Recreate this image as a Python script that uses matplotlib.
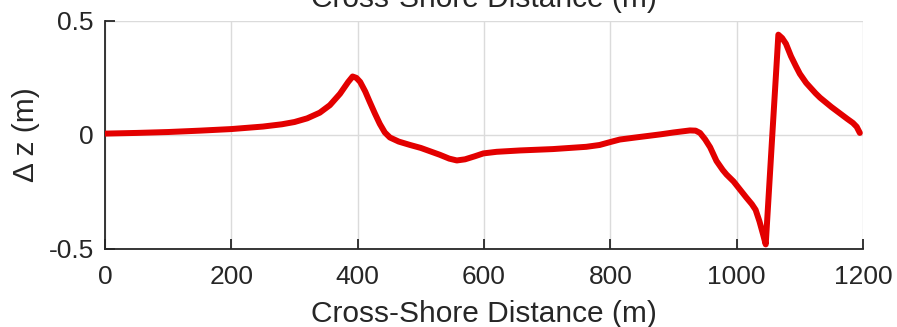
import matplotlib
matplotlib.use("Agg")
import matplotlib.pyplot as plt
from matplotlib.ticker import FixedLocator, FixedFormatter

plt.rcParams['font.family'] = ['Liberation Sans', 'DejaVu Sans']
plt.rcParams['axes.unicode_minus'] = False

distance = [0, 50, 100, 150, 200, 250, 280, 300, 320, 340, 356, 372, 385, 392, 398,
            404, 412, 419, 427, 435, 443, 451, 465, 483, 500, 514, 530, 545, 557, 570,
            585, 599, 620, 657, 709, 762, 783, 800, 815, 840, 863, 880, 900, 926, 935,
            942, 950, 958, 968, 978, 984, 995, 1005, 1015, 1024, 1030, 1036, 1042, 1046,
            1056, 1063, 1066, 1072, 1078, 1086, 1094, 1100, 1110, 1125, 1132, 1150, 1163,
            1175, 1184, 1190, 1195]
dz = [0.005, 0.008, 0.012, 0.018, 0.025, 0.036, 0.046, 0.056, 0.072, 0.097, 0.13, 0.18,
      0.232, 0.256, 0.25, 0.232, 0.19, 0.145, 0.095, 0.048, 0.01, -0.012, -0.03, -0.045,
      -0.058, -0.072, -0.088, -0.105, -0.113, -0.108, -0.095, -0.082, -0.075, -0.069,
      -0.063, -0.053, -0.045, -0.032, -0.021, -0.012, -0.004, 0.002, 0.01, 0.019, 0.018,
      0.008, -0.02, -0.055, -0.115, -0.155, -0.175, -0.205, -0.24, -0.275, -0.305, -0.33,
      -0.38, -0.44, -0.482, -0.02, 0.30, 0.44, 0.425, 0.40, 0.345, 0.30, 0.268, 0.228, 0.182,
      0.163, 0.122, 0.095, 0.07, 0.052, 0.035, 0.008]

xticks = [0, 200, 400, 600, 800, 1000, 1200]
xticklabels = ['0', '200', '400', '600', '800', '1000', '1200']
yticks = [-0.5, 0, 0.5]
yticklabels = ['-0.5', '0', '0.5']

xlabel = 'Cross-Shore Distance (m)'
ylabel = '\u0394 z (m)'

fig = plt.figure(figsize=(8.97, 3.27), dpi=100)
ax = fig.add_axes([105/897, 1 - 248.5/327, (863 - 105)/897, (248.5 - 21)/327])

dark = (0.15, 0.15, 0.15)
ax.plot(distance, dz, color=(0.89, 0.0, 0.0), lw=4.3,
        solid_joinstyle='round', solid_capstyle='round', zorder=3)

ax.set_xlim(0, 1200)
ax.set_ylim(-0.5, 0.5)
ax.xaxis.set_major_locator(FixedLocator(xticks))
ax.xaxis.set_major_formatter(FixedFormatter(xticklabels))
ax.yaxis.set_major_locator(FixedLocator(yticks))
ax.yaxis.set_major_formatter(FixedFormatter(yticklabels))

ax.grid(True, color=(0.86, 0.86, 0.86), lw=1.0, zorder=0)
ax.set_axisbelow(True)
for s in ['top', 'right']:
    ax.spines[s].set_visible(False)
for s in ['left', 'bottom']:
    ax.spines[s].set_color(dark)
    ax.spines[s].set_linewidth(1.3)

ax.tick_params(direction='in', length=7, width=1.3, color=dark,
               labelsize=19, labelcolor=dark)
ax.tick_params(axis='x', pad=12)
ax.tick_params(axis='y', pad=8)

ax.set_xlabel(xlabel, fontsize=21.5, color=dark, labelpad=8)
ax.set_ylabel(ylabel, fontsize=21.5, color=dark, labelpad=6)

# cut-off label of the panel above
fig.text(484/897, 1 - 7/327, xlabel, fontsize=21.5, color=dark,
         ha='center', va='baseline')

fig.savefig('out.png', dpi=100)
